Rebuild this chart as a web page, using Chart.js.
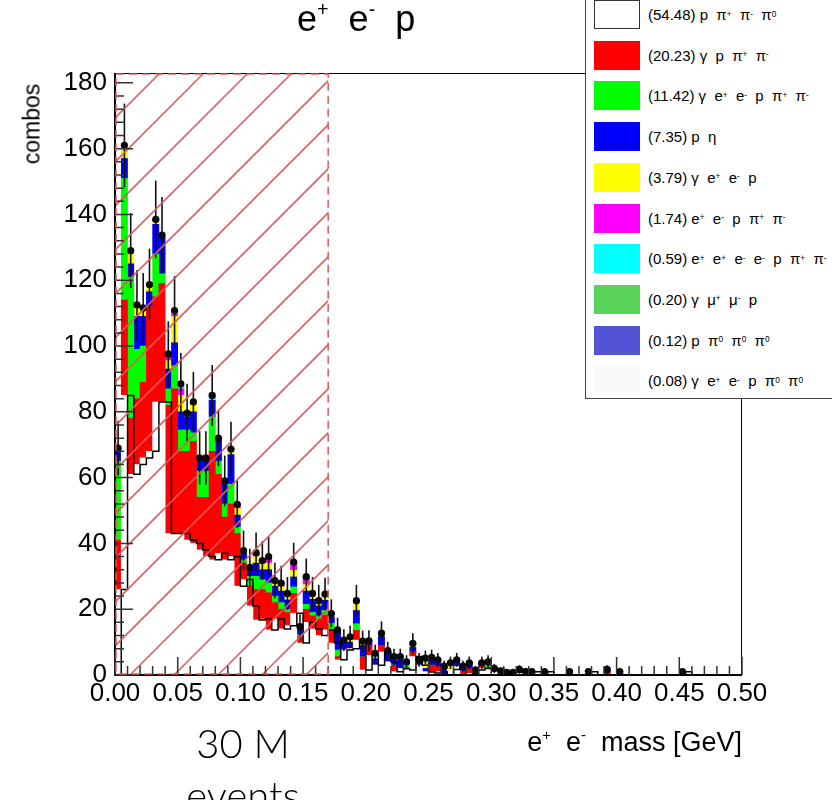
<!DOCTYPE html>
<html>
<head>
<meta charset="utf-8">
<script src="https://cdn.jsdelivr.net/npm/chart.js@4.4.1/dist/chart.umd.min.js"></script>
<style>
  html, body { margin: 0; padding: 0; background: #fff; }
  #wrap { position: relative; width: 832px; height: 800px; overflow: hidden; font-family: "Liberation Sans", Arial, sans-serif; color: #000; }
  #c { position: absolute; left: 0; top: 0; }
  sup { font-size: 0.55em; vertical-align: 0.75em; line-height: 0; }
  .title { position: absolute; left: 297px; top: -2px; font-size: 36px; white-space: pre; }
  .ytitle { position: absolute; left: 32px; top: 124px; font-size: 23px; transform: translate(-50%, -50%) rotate(-90deg); white-space: nowrap; }
  .xtitle { position: absolute; right: 90px; top: 727px; font-size: 27px; white-space: pre; }
  .events { position: absolute; left: 243px; top: 717px; transform: translateX(-50%); font-family: Lato, "DejaVu Sans", sans-serif; font-weight: 300; font-size: 40px; line-height: 52px; text-align: center; }
  #legend { position: absolute; left: 585px; top: -12px; width: 262px; height: 409px; border: 1px solid #444; background: #fff; }
  .entry { position: absolute; left: 8px; height: 29px; display: flex; align-items: center; font-size: 15px; white-space: pre; }
  .swatch { width: 46px; height: 29px; box-sizing: border-box; margin-right: 8px; }
</style>
</head>
<body>
<div id="wrap">
  <canvas id="c" width="832" height="800"></canvas>
  <div class="title">e<sup>+</sup>  e<sup>-</sup>  p</div>
  <div class="ytitle">combos</div>
  <div class="xtitle">e<sup>+</sup>  e<sup>-</sup>  mass [GeV]</div>
  <div class="events">30 M<br>events</div>
  <div id="legend"></div>
</div>
<script>
// histogram binning (GeV)
const binWidth = 0.005;
const nBins = 100;
const hatchEnd = 0.17;

const xTickValues = [0, 0.05, 0.1, 0.15, 0.2, 0.25, 0.3, 0.35, 0.4, 0.45, 0.5];
const xTickLabels = ['0.00', '0.05', '0.10', '0.15', '0.20', '0.25', '0.30', '0.35', '0.40', '0.45', '0.50'];
const yTickValues = [0, 20, 40, 60, 80, 100, 120, 140, 160, 180];

// stacked components, one value per bin (bottom of the stack first)
const pPipPimPi0 = [
  26, 85, 61, 64, 66, 68, 83, 83, 43, 43,
  43, 41, 40, 38, 36, 35, 37, 35, 36, 27,
  29, 21, 16.7, 17, 13.7, 17, 14, 15, 18.8, 9.7,
  16, 14, 12, 13.7, 9.7, 4.6, 7.6, 8, 10.6, 1.5,
  6, 3, 7, 4, 1, 2, 1.5, 5.6, 3, 1,
  0.6, 1, 0, 1.7, 2.6, 0, 0.5, 1.5, 2, 2,
  2, 1.2, 0.8, 0.8, 1.7, 1, 1, 0, 1, 0,
  0, 0, 0, 0, 0, 1, 0, 0, 0, 0,
  0, 0, 0, 0, 0, 0, 0, 0, 0, 0,
  1, 0, 0, 0, 0, 0, 0, 0, 0, 0
];
const gPPipPim = [
  15, 29, 17, 20, 23, 44, 32, 36, 39, 44,
  25, 27, 31, 16, 18, 33, 24, 13, 16, 16,
  5, 6, 9.3, 9, 11.3, 5, 6, 4, 6, 2,
  4, 4, 5, 4.5, 4, 1, 0, 0, 3, 4,
  3, 0, 2, 0, 2, 0, 0, 1.4, 0, 0,
  2.4, 1.6, 0, 0, 0, 1, 1.5, 0, 1, 0,
  0, 0, 0, 0, 0, 0, 0, 0, 0, 0,
  0, 0, 0, 0, 0, 0, 0, 0, 0.8, 0,
  0, 0, 0, 0, 0, 0, 0, 0, 0, 0,
  0, 0, 0, 0, 0, 0, 0, 0, 0, 0
];
const gEEPPipPim = [
  24, 37, 43, 15, 11, 0, 13, 3, 5, 7,
  6.5, 6.5, 2.6, 8, 8, 10.5, 4, 4, 6, 2,
  1, 3, 4, 3, 3, 2, 2, 1, 2, 0.5,
  1.5, 1, 1, 1.5, 2, 2, 0, 0, 2, 0,
  0, 0, 0, 0, 0, 0, 1.5, 0, 0, 0,
  0, 0, 0, 0, 0, 0, 0, 0, 0, 1.5,
  0, 0, 0, 0, 0, 0, 0, 0, 0, 0,
  0, 0, 0, 0, 0, 0, 0, 0, 0, 0,
  0, 0, 0, 0, 0, 0, 0, 0, 0, 0,
  0, 0, 0, 0, 0, 0, 0, 0, 0, 0
];
const pEta = [
  4, 6, 4, 10, 9, 4.5, 9, 11, 6, 7,
  5.5, 4, 6.4, 3, 3.5, 5, 6.5, 6, 9, 3.6,
  2, 2, 4, 3, 4, 3, 3.5, 2.8, 3, 2.5,
  4, 4, 3, 3, 2, 5.6, 2.5, 2, 4, 3.5,
  0.4, 2, 2.7, 2.4, 1.6, 2.6, 1, 1.4, 1.6, 1,
  2.4, 1, 2.7, 0, 2, 1.7, 1.7, 0, 0.7, 0.5,
  0, 0, 0, 0, 0, 0, 0, 0, 0, 0,
  0, 0, 0, 0, 0, 0, 0, 0, 0.9, 0,
  1, 0, 0, 0, 0, 0, 0, 0, 0, 0,
  0, 0, 0, 0, 0, 0, 0, 0, 0, 0
];
const gEEP = [
  0, 4, 4, 3.5, 2.6, 2.2, 1, 0.7, 2.6, 8,
  5, 1.1, 2.7, 1, 0.5, 0, 0.5, 1, 1.5, 2,
  0.8, 0.7, 2, 2, 2, 1, 1.4, 1.4, 2, 0,
  2, 1, 1, 1, 0.5, 0.5, 0.5, 1.6, 2.5, 0.5,
  0, 1.6, 1, 0, 0, 0, 0, 1.2, 0, 3.1,
  0, 0, 0, 2, 0, 0, 0, 0, 0, 0,
  0, 0, 0, 0, 0, 0, 0, 0, 0, 0,
  0, 0, 1, 0, 0, 0, 0, 0, 0, 0,
  0, 0, 0, 0, 0, 0, 0, 0, 0, 0,
  0, 0, 0, 0, 0, 0, 0, 0, 0, 0
];
const eePPipPim = [
  0, 0, 0, 0, 0, 0, 0.5, 0, 1.5, 0.6,
  2, 0, 0.3, 0, 0, 0, 0, 0, 0.2, 1.3,
  0, 0, 1.2, 0.8, 2, 0.7, 1, 0.6, 2.5, 0,
  2.4, 0.8, 0.6, 0.9, 0.5, 0, 0, 0, 0.5, 0.8,
  1, 0, 0, 1, 1, 1, 0, 0, 0, 0,
  0, 1, 0, 0, 0, 0, 0, 0, 0, 0,
  0, 0, 0, 0, 0, 0, 0, 0, 0, 0,
  0, 0, 0, 0, 0, 0, 0, 0, 0, 0,
  0, 0, 0, 0, 0, 0, 0, 0, 0, 0,
  0, 0, 0, 0, 0, 0, 0, 0, 0, 0
];
const eeeePPipPim = [
  0, 0, 0, 0, 0, 0, 0, 0, 0.5, 1.2,
  1.5, 0, 0, 0, 0, 1.5, 0, 0, 0, 0,
  0, 0, 0, 0, 0, 0, 0, 0, 0, 0,
  0, 0, 0, 0, 0, 0, 0, 0, 0, 0,
  0, 0, 0, 0, 0, 0, 0, 0, 0, 0,
  0, 0, 0, 0, 0, 0, 0, 0, 0, 0,
  0, 0, 0, 0, 0, 0, 0, 0, 0, 0,
  0, 0, 0, 0, 0, 0, 0, 0, 0, 0,
  0, 0, 0, 0, 0, 0, 0, 0, 0, 0,
  0, 0, 0, 0, 0, 0, 0, 0, 0, 0
];
// statistical error on the stacked total
const totalErrors = [
  8.3, 12.7, 11.4, 10.6, 10.6, 10.9, 11.8, 11.6, 9.9, 10.5,
  9.4, 8.9, 9.1, 8.1, 8.1, 9.2, 8.5, 7.7, 8.3, 7.2,
  6.1, 5.7, 6.1, 5.9, 6.0, 5.4, 5.3, 5.0, 5.9, 3.8,
  5.5, 5.0, 4.8, 5.0, 4.3, 3.7, 3.3, 3.4, 4.8, 3.2,
  3.2, 2.6, 3.6, 2.7, 2.4, 2.4, 2.0, 3.1, 2.1, 2.3,
  2.3, 2.1, 1.6, 1.9, 2.1, 1.6, 1.9, 1.2, 1.9, 2.0,
  1.4, 1.1, 0.9, 0.9, 1.3, 1, 1, 0, 1, 0,
  0, 0, 1, 0, 0, 1, 0, 0, 1.3, 0,
  1, 0, 0, 0, 0, 0, 0, 0, 0, 0,
  1, 0, 0, 0, 0, 0, 0, 0, 0, 0
];

// legend: share in percent, label html, colour
const legendShares = ['54.48', '20.23', '11.42', '7.35', '3.79', '1.74', '0.59', '0.20', '0.12', '0.08'];
const legendLabels = [
  'p  &pi;<sup>+</sup>  &pi;<sup>-</sup>  &pi;<sup>0</sup>',
  '&gamma;  p  &pi;<sup>+</sup>  &pi;<sup>-</sup>',
  '&gamma;  e<sup>+</sup>  e<sup>-</sup>  p  &pi;<sup>+</sup>  &pi;<sup>-</sup>',
  'p  &eta;',
  '&gamma;  e<sup>+</sup>  e<sup>-</sup>  p',
  'e<sup>+</sup>  e<sup>-</sup>  p  &pi;<sup>+</sup>  &pi;<sup>-</sup>',
  'e<sup>+</sup>  e<sup>+</sup>  e<sup>-</sup>  e<sup>-</sup>  p  &pi;<sup>+</sup>  &pi;<sup>-</sup>',
  '&gamma;  &mu;<sup>+</sup>  &mu;<sup>-</sup>  p',
  'p  &pi;<sup>0</sup>  &pi;<sup>0</sup>  &pi;<sup>0</sup>',
  '&gamma;  e<sup>+</sup>  e<sup>-</sup>  p  &pi;<sup>0</sup>  &pi;<sup>0</sup>'
];
const legendColors = ['#ffffff', '#ff0000', '#00ff00', '#0000ff', '#ffff00', '#ff00ff', '#00ffff', '#59d459', '#5353d6', '#fafafa'];

const components = [pPipPimPi0, gPPipPim, gEEPPipPim, pEta, gEEP, eePPipPim, eeeePPipPim];

const binCenters = pPipPimPi0.map((_, i) => (i + 0.5) * binWidth);
const totals = binCenters.map((_, i) => components.reduce((s, arr) => s + arr[i], 0));

const legend = document.getElementById('legend');
legendShares.forEach((share, i) => {
  const row = document.createElement('div');
  row.className = 'entry';
  row.style.top = (11 + 40.7 * i) + 'px';
  const border = i === 0 ? 'border:1px solid #333;' : '';
  row.innerHTML = '<div class="swatch" style="background:' + legendColors[i] + ';' + border + '"></div>(' + share + ') ' + legendLabels[i];
  legend.appendChild(row);
});

const rootStyle = {
  id: 'rootStyle',
  afterDatasetsDraw(chart) {
    const { ctx, chartArea: a, scales: { x, y } } = chart;

    // error bars on the total
    ctx.save();
    ctx.strokeStyle = '#111';
    ctx.lineWidth = 1.6;
    totals.forEach((t, i) => {
      if (t <= 0 || totalErrors[i] <= 0) return;
      const px = x.getPixelForValue(binCenters[i]);
      ctx.beginPath();
      ctx.moveTo(px, y.getPixelForValue(Math.max(0, t - totalErrors[i])));
      ctx.lineTo(px, y.getPixelForValue(t + totalErrors[i]));
      ctx.stroke();
    });
    ctx.restore();

    // hatched cut region
    const x0 = x.getPixelForValue(0);
    const x1 = x.getPixelForValue(hatchEnd);
    const h = a.bottom - a.top;
    ctx.save();
    ctx.beginPath();
    ctx.rect(x0, a.top, x1 - x0, h);
    ctx.clip();
    ctx.strokeStyle = 'rgba(222, 90, 90, 0.95)';
    ctx.lineWidth = 1.6;
    ctx.beginPath();
    for (let k = 15 - 15 * 44; k < x1 - x0; k += 44) {
      ctx.moveTo(x0 + k, a.bottom);
      ctx.lineTo(x0 + k + h, a.top);
    }
    ctx.stroke();
    ctx.restore();

    // frame and axes
    ctx.save();
    ctx.strokeStyle = '#000';
    ctx.lineWidth = 1;
    ctx.strokeRect(a.left + 0.5, a.top + 0.5, a.width - 1, a.height - 1);
    ctx.lineWidth = 2;
    ctx.beginPath();
    ctx.moveTo(a.left, a.top);
    ctx.lineTo(a.left, a.bottom);
    ctx.lineTo(a.right, a.bottom);
    ctx.stroke();

    // ticks drawn inward
    ctx.lineWidth = 1.5;
    ctx.strokeStyle = '#333';
    ctx.beginPath();
    for (let v = 0; v <= 0.5001; v += 0.01) {
      const px = x.getPixelForValue(v);
      const major = Math.abs(v / 0.05 - Math.round(v / 0.05)) < 1e-6;
      ctx.moveTo(px, a.bottom);
      ctx.lineTo(px, a.bottom - (major ? 18 : 9));
    }
    for (let v = 0; v <= 182; v += 4) {
      const py = y.getPixelForValue(v);
      ctx.moveTo(a.left, py);
      ctx.lineTo(a.left + (v % 20 === 0 ? 18 : 9), py);
    }
    ctx.stroke();

    // dashed border of the cut region
    ctx.strokeStyle = 'rgba(222, 90, 90, 0.95)';
    ctx.lineWidth = 1.6;
    ctx.setLineDash([8, 5]);
    ctx.strokeRect(x0 + 1, a.top + 1, x1 - x0 - 1, h - 2);
    ctx.restore();
  }
};

const barSets = components.map((arr, k) => ({
  type: 'bar',
  label: legendShares[k],
  data: arr.map((v, i) => ({ x: binCenters[i], y: v })),
  backgroundColor: legendColors[k],
  borderWidth: 0,
  order: 10 + k
}));

const outline = {
  type: 'line',
  label: 'outline',
  stack: 'outline',
  data: [{ x: 0, y: 0 }].concat(pPipPimPi0.map((v, i) => ({ x: (i + 1) * binWidth, y: v }))),
  stepped: 'before',
  borderColor: '#000',
  borderWidth: 1.5,
  pointRadius: 0,
  fill: false,
  order: 2
};

const dots = {
  type: 'line',
  label: 'total',
  stack: 'dots',
  data: totals.map((t, i) => ({ x: binCenters[i], y: t })).filter(p => p.y > 0),
  showLine: false,
  pointRadius: 3.6,
  pointBackgroundColor: '#000',
  pointBorderWidth: 0,
  order: 1
};

new Chart(document.getElementById('c'), {
  type: 'bar',
  data: { datasets: barSets.concat([outline, dots]) },
  options: {
    responsive: false,
    animation: false,
    events: [],
    layout: { padding: { left: 0, right: 90, top: 73, bottom: 0 } },
    plugins: { legend: { display: false }, tooltip: { enabled: false } },
    datasets: { bar: { categoryPercentage: 1, barPercentage: 1 } },
    scales: {
      x: {
        type: 'linear',
        min: 0,
        max: 0.5,
        offset: false,
        stacked: true,
        grid: { display: false, drawTicks: false },
        border: { display: false },
        afterBuildTicks: axis => { axis.ticks = xTickValues.map(v => ({ value: v })); },
        afterFit: axis => { axis.height = 125; },
        ticks: {
          maxRotation: 0,
          autoSkip: false,
          padding: 3,
          color: '#000',
          font: { family: 'Liberation Sans', size: 26 },
          callback: (v, i) => xTickLabels[i]
        }
      },
      y: {
        min: 0,
        max: 183,
        stacked: true,
        grid: { display: false, drawTicks: false },
        border: { display: false },
        afterBuildTicks: axis => { axis.ticks = yTickValues.map(v => ({ value: v })); },
        afterFit: axis => { axis.width = 115; },
        ticks: {
          padding: 8,
          color: '#000',
          font: { family: 'Liberation Sans', size: 26 },
          callback: v => String(v)
        }
      }
    }
  },
  plugins: [rootStyle]
});
</script>
</body>
</html>
